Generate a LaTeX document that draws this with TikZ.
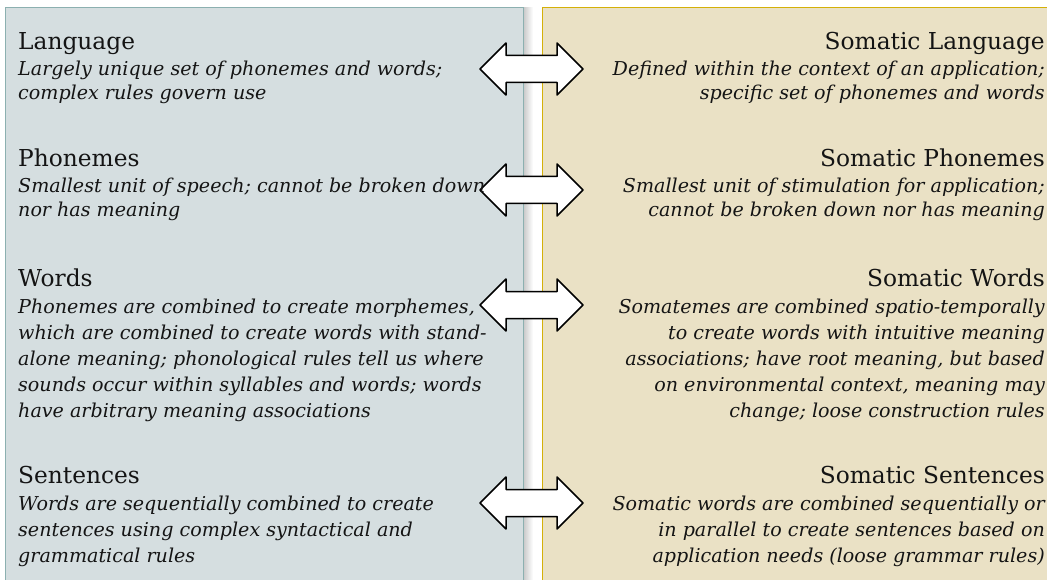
\documentclass[tikz,border=0pt]{standalone}
\usepackage{fontspec}
\setmainfont{DejaVu Serif}
\usetikzlibrary{calc}
\begin{document}
\begin{tikzpicture}[x=1pt,y=-1pt,
  hdL/.style={inner sep=0pt,anchor=base west,font=\fontsize{23.3}{27}\selectfont,text=black!92},
  hdR/.style={inner sep=0pt,anchor=base east,font=\fontsize{23.3}{27}\selectfont,text=black!92},
  bdL/.style={inner sep=0pt,anchor=base west,font=\fontsize{19.1}{22}\selectfont\itshape,text=black!92},
  bdR/.style={inner sep=0pt,anchor=base east,font=\fontsize{19.1}{22}\selectfont\itshape,text=black!92},
  dblarrow/.style={draw=black,fill=white,line width=1.5pt,line join=round}]
\definecolor{leftfill}{RGB}{213,222,224}
\definecolor{leftedge}{RGB}{140,176,176}
\definecolor{rightfill}{RGB}{234,225,197}
\definecolor{rightedge}{RGB}{212,176,8}
\useasboundingbox (0,0) rectangle (1047,580);
\fill[white] (0,0) rectangle (1047,580);
% panels
\shade[left color=black!22,right color=white] (523,8) rectangle (533,590);
\draw[fill=leftfill,draw=leftedge,line width=1pt] (5,8) rectangle (523,590);
\draw[fill=rightfill,draw=rightedge,line width=1pt] (542,8) rectangle (1060,590);
% arrows
\foreach \cy/\nm in {69/a1,190/a2,305/a3,503/a4}{
  \coordinate (\nm) at (531.5,\cy);
  \draw[dblarrow] ($(\nm)+(-51.5,0)$) -- ++(26,-26) -- ++(0,12.5) -- ++(51,0) -- ++(0,-12.5)
    -- ++(26,26) -- ++(-26,26) -- ++(0,-12.5) -- ++(-51,0) -- ++(0,12.5) -- cycle;
}
% left texts
\node[hdL] (lh1) at (18,50) {Language};
\node[bdL] (lb11) at (18,76) {Largely unique set of phonemes and words;};
\node[bdL] (lb12) at (18,100) {complex rules govern use};
\node[hdL] (lh2) at (18,167) {Phonemes};
\node[bdL] (lb21) at (18,193) {Smallest unit of speech; cannot be broken down};
\node[bdL] (lb22) at (18,217) {nor has meaning};
\node[hdL] (lh3) at (18,286) {Words};
\node[bdL] (lb31) at (18,313) {Phonemes are combined to create morphemes,};
\node[bdL] (lb32) at (18,339) {which are combined to create words with stand-};
\node[bdL] (lb33) at (18,365) {alone meaning; phonological rules tell us where};
\node[bdL] (lb34) at (18,391) {sounds occur within syllables and words; words};
\node[bdL] (lb35) at (18,417) {have arbitrary meaning associations};
\node[hdL] (lh4) at (18,483) {Sentences};
\node[bdL] (lb41) at (18,510) {Words are sequentially combined to create};
\node[bdL] (lb42) at (18,536) {sentences using complex syntactical and};
\node[bdL] (lb43) at (18,562) {grammatical rules};
% right texts
\node[hdR] (rh1) at (1045,50) {Somatic Language};
\node[bdR] (rb11) at (1045,76) {Defined within the context of an application;};
\node[bdR] (rb12) at (1045,100) {specific set of phonemes and words};
\node[hdR] (rh2) at (1045,167) {Somatic Phonemes};
\node[bdR] (rb21) at (1045,193) {Smallest unit of stimulation for application;};
\node[bdR] (rb22) at (1045,217) {cannot be broken down nor has meaning};
\node[hdR] (rh3) at (1045,286) {Somatic Words};
\node[bdR] (rb31) at (1045,313) {Somatemes are combined spatio-temporally};
\node[bdR] (rb32) at (1045,339) {to create words with intuitive  meaning};
\node[bdR] (rb33) at (1045,365) {associations; have root meaning, but based};
\node[bdR] (rb34) at (1045,391) {on environmental context, meaning may};
\node[bdR] (rb35) at (1045,417) {change; loose construction rules};
\node[hdR] (rh4) at (1045,483) {Somatic Sentences};
\node[bdR] (rb41) at (1045,510) {Somatic words are combined sequentially or};
\node[bdR] (rb42) at (1045,536) {in parallel to create sentences based on};
\node[bdR] (rb43) at (1045,562) {application needs (loose grammar rules)};
\end{tikzpicture}
\end{document}
